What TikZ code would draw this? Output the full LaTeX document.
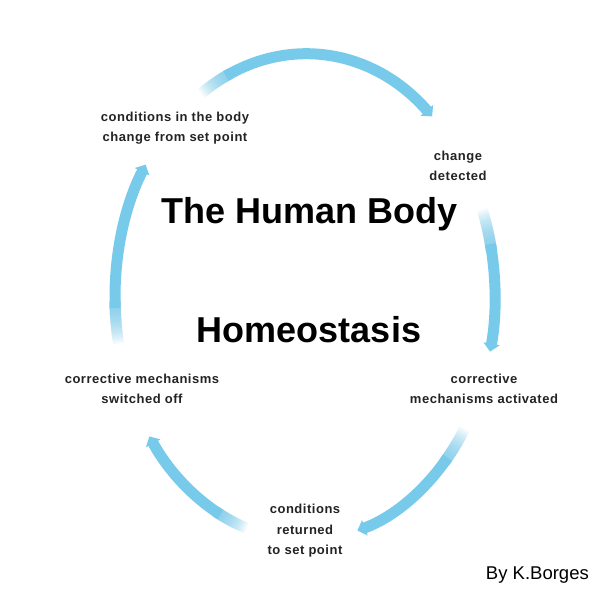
\documentclass[tikz,border=0pt]{standalone}
\usepackage{fontspec}
\setmainfont{Liberation Sans}
\usetikzlibrary{arrows.meta}
\definecolor{arrowblue}{RGB}{120,202,235}
\definecolor{labelgray}{RGB}{35,35,35}
\tikzset{
  lbl/.style={font=\fontsize{13}{20.5}\selectfont\bfseries\addfontfeatures{LetterSpace=4}, text=labelgray, align=center, inner sep=0pt},
  ttl/.style={font=\fontsize{36}{40}\selectfont\bfseries, inner sep=0pt},
  cyc/.style={draw=arrowblue, line width=11pt},
  cyctip/.style={-{Triangle[width=16pt,length=8pt]}},
}
\newcommand{\cycarrow}[2]{%
  \foreach \i in {0,...,13}{%
    \pgfmathsetmacro{\sa}{#1-0.6*\i}%
    \draw[cyc, opacity=0.1] ([shift={(\sa:190 and 243)}]C) arc[start angle=\sa, end angle={#1-10}, x radius=190, y radius=243];
  }%
  \pgfmathsetmacro{\sb}{#1-8.4}%
  \draw[cyc, cyctip] ([shift={(\sb:190 and 243)}]C) arc[start angle=\sb, end angle=#2, x radius=190, y radius=243];
}
\begin{document}
\begin{tikzpicture}[x=1pt,y=1pt]
\useasboundingbox[fill=white] (0,0) rectangle (612,612);
\coordinate (C) at (305,315);
% cycle arrows (clockwise)
\cycarrow{123}{48}
\cycarrow{21}{-13}
\cycarrow{-33}{-74}
\cycarrow{252}{215}
\cycarrow{191}{147}
% labels
\node[lbl] (change) at (175,484) {conditions in the body\\change from set point};
\node[lbl] (detect) at (458,446) {change\\detected};
\node[lbl] (active) at (484,223) {corrective\\mechanisms activated};
\node[lbl] (return) at (305,81) {conditions\\returned\\to set point};
\node[lbl] (off) at (142,223) {corrective mechanisms\\switched off};
% titles
\node[ttl] (title) at (310,398) {The Human Body};
\node[ttl] (homeo) at (309,282) {Homeostasis};
\node[font=\fontsize{18.5}{22}\selectfont, inner sep=0pt, anchor=east] (author) at (589,37) {By K.Borges};
\end{tikzpicture}
\end{document}
